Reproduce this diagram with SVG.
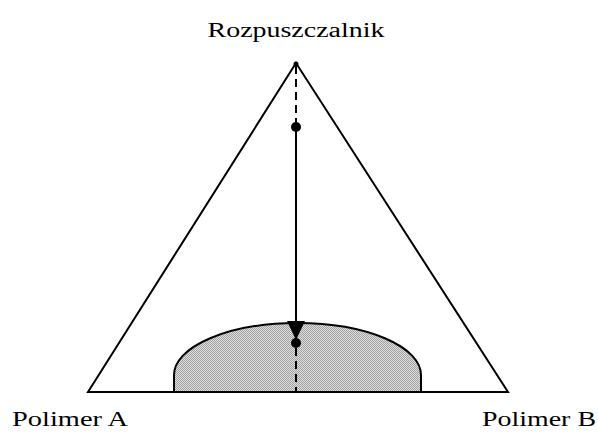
<svg xmlns="http://www.w3.org/2000/svg" width="598" height="434" viewBox="0 0 598 434">
<style>
.t{font-size:20px;fill:#000}
.ln{stroke:#000;stroke-width:2;fill:none}
.dash{stroke:#000;stroke-width:2;stroke-dasharray:8,5;fill:none}
</style>
<defs>
<pattern id="chk" width="2" height="2" patternUnits="userSpaceOnUse">
<rect width="2" height="2" fill="#e0e0e0"/>
<rect width="1" height="1" fill="#a0a0a0"/>
<rect x="1" y="1" width="1" height="1" fill="#a0a0a0"/>
</pattern>
</defs>
<rect width="598" height="434" fill="#fff"/>
<g id="region">
<path d="M174,392 L174,375 A123.5,52 0 0 1 421,375 L421,392 Z" fill="url(#chk)" stroke="#000" stroke-width="2"/>
</g>
<g id="triangle">
<path class="ln" d="M296,63 L88,392 L508,392 Z"/>
</g>
<g id="connectors">
<line class="dash" x1="296" y1="66" x2="296" y2="122"/>
<line class="ln" x1="296" y1="127" x2="296" y2="322"/>
<line class="dash" x1="296" y1="348" x2="296" y2="392"/>
<path d="M287,321 L305,321 L296,340 Z" fill="#000"/>
</g>
<g id="points">
<circle cx="296" cy="64" r="2.5" fill="#000"/>
<circle cx="296" cy="127" r="5" fill="#000"/>
<circle cx="296" cy="343" r="5" fill="#000"/>
</g>
<g id="labels" font-family="'Liberation Serif', 'DejaVu Serif', serif">
<text class="t" id="solvent" x="296" y="37" text-anchor="middle" textLength="177" lengthAdjust="spacingAndGlyphs">Rozpuszczalnik</text>
<text class="t" id="polA" x="12" y="426" textLength="116" lengthAdjust="spacingAndGlyphs">Polimer A</text>
<text class="t" id="polB" x="482" y="426" textLength="114" lengthAdjust="spacingAndGlyphs">Polimer B</text>
</g>
</svg>
